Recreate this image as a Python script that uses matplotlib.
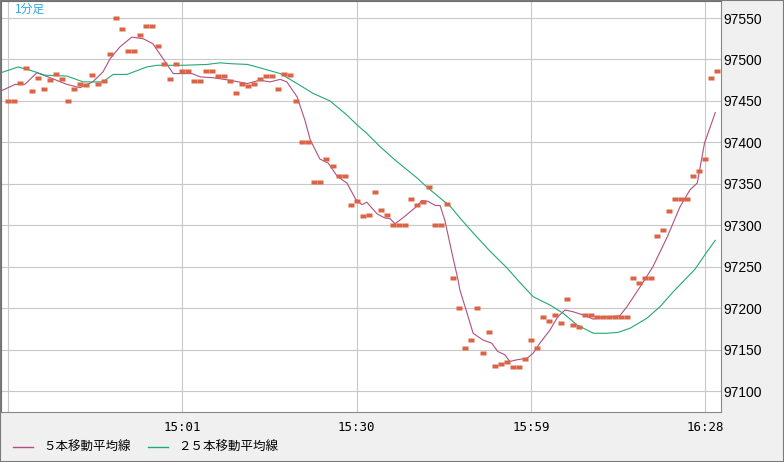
import matplotlib
matplotlib.use("Agg")
import matplotlib.pyplot as plt
from matplotlib.patches import Rectangle

# 1分足 close prices, one per minute starting 14:32
price = [97450, 97450, 97472, 97490, 97462, 97478, 97465, 97475, 97483, 97477,
         97450, 97464, 97470, 97469, 97481, 97470, 97474, 97507, 97550, 97537,
         97510, 97510, 97530, 97540, 97540, 97516, 97495, 97476, 97495, 97486,
         97486, 97474, 97474, 97486, 97486, 97480, 97480, 97474, 97460, 97471,
         97468, 97470, 97476, 97480, 97480, 97465, 97482, 97481, 97450, 97400,
         97400, 97352, 97352, 97380, 97371, 97359, 97359, 97324, 97329, 97311,
         97312, 97340, 97318, 97312, 97300, 97300, 97300, 97332, 97324, 97328,
         97346, 97300, 97300, 97326, 97236, 97200, 97152, 97162, 97200, 97146,
         97171, 97131, 97133, 97135, 97129, 97129, 97139, 97162, 97152, 97189,
         97185, 97192, 97182, 97211, 97180, 97177, 97192, 97192, 97190, 97190,
         97190, 97190, 97190, 97190, 97236, 97230, 97236, 97236, 97287, 97294,
         97317, 97332, 97332, 97332, 97360, 97365, 97380, 97478, 97486]

# moving averages (minute, value)
ma5_t = [-1.2, 1.2, 2.8, 4.8, 7.0, 9.8, 12.0, 14.1, 15.8, 17.0, 18.6, 20.6, 22.5,
         24.1, 25.8, 27.5, 30.6, 32.0, 34.1, 36.9, 39.8, 41.9, 43.6, 45.3, 46.4,
         48.1, 49.4, 50.3, 51.9, 53.3, 54.8, 56.4, 57.9, 58.9, 59.7, 61.4, 62.7,
         63.6, 64.4, 65.7, 67.7, 68.9, 69.9, 71.1, 71.9, 72.7, 73.9, 74.9, 75.2,
         76.4, 77.4, 79.0, 80.5, 81.5, 82.7, 83.5, 84.7, 86.4, 87.4, 88.5, 90.2,
         91.5, 92.7, 94.0, 95.7, 97.4, 98.5, 101.8, 103.0, 105.2, 107.3, 109.7,
         111.8, 113.5, 114.7, 115.9, 117.7]
ma5_v = [97462, 97470, 97470, 97484, 97478, 97470, 97466, 97473, 97485, 97501,
         97515, 97527, 97525, 97519, 97501, 97483, 97483, 97479, 97478, 97475,
         97471, 97475, 97473, 97476, 97473, 97455, 97427, 97403, 97380, 97375,
         97359, 97351, 97331, 97325, 97328, 97314, 97309, 97308, 97302, 97309,
         97321, 97330, 97329, 97324, 97324, 97306, 97266, 97234, 97222, 97194,
         97170, 97162, 97158, 97148, 97144, 97136, 97138, 97140, 97146, 97158,
         97174, 97190, 97198, 97196, 97192, 97187, 97189, 97191, 97202, 97226,
         97250, 97286, 97322, 97343, 97351, 97399, 97436]

ma25_t = [-1.2, 1.7, 3.7, 6.2, 9.8, 12.5, 15.8, 17.5, 19.8, 23.1, 24.8, 29.0,
          33.1, 35.3, 36.9, 39.9, 42.4, 45.3, 48.1, 50.8, 53.6, 56.4, 58.1, 59.7,
          61.9, 64.7, 68.1, 69.9, 71.9, 73.6, 75.2, 77.4, 80.2, 83.0, 85.2, 87.4,
          90.2, 92.4, 94.7, 97.4, 99.7, 101.5, 103.5, 106.3, 108.5, 110.7, 112.3,
          114.3, 116.3, 117.7]
ma25_v = [97484, 97491, 97487, 97481, 97480, 97473, 97473, 97482, 97482, 97491,
          97493, 97493, 97494, 97496, 97495, 97494, 97489, 97483, 97471, 97459,
          97450, 97433, 97421, 97411, 97395, 97377, 97357, 97345, 97333, 97323,
          97309, 97291, 97269, 97249, 97231, 97214, 97204, 97194, 97180, 97170,
          97170, 97171, 97176, 97188, 97202, 97220, 97232, 97247, 97268, 97282]

x_ticks = [0, 29, 58, 87, 116]
x_labels = ["", "15:01", "15:30", "15:59", "16:28"]
y_ticks = [97100, 97150, 97200, 97250, 97300, 97350, 97400, 97450, 97500, 97550]

fig = plt.figure(figsize=(7.84, 4.62), dpi=100, facecolor="#f0f0f0")
ax = fig.add_axes([1 / 784, 49.7 / 462, 720 / 784, 411.8 / 462])
ax.set_facecolor("white")

l5, = ax.plot(ma5_t, ma5_v, color="#b0507e", lw=0.8, label="５本移動平均線")
l25, = ax.plot(ma25_t, ma25_v, color="#22aa70", lw=0.8, label="２５本移動平均線")
# small flat rectangles for the price marks
rect = [(-2, -1.3), (2, -1.3), (2, 1.3), (-2, 1.3), (-2, -1.3)]
ax.plot(range(len(price)), price, ls="none", marker=rect, ms=3.9,
        mfc="#dc6446", mec="none", zorder=3)

ax.set_xlim(-1.165, 118.65)
ax.set_ylim(97074.7, 97571.1)
ax.set_xticks(x_ticks)
ax.set_xticklabels(x_labels)
ax.set_yticks(y_ticks)
ax.yaxis.tick_right()
ax.grid(True, color="#c8c8c8", lw=0.8)
ax.set_axisbelow(True)
ax.tick_params(axis="y", length=0, pad=2, labelsize=10,
               labelfontfamily="Liberation Sans", labelcolor="black")
ax.tick_params(axis="x", length=0, pad=6, labelsize=9,
               labelfontfamily="DejaVu Sans Mono", labelcolor="black")
for side in ["left", "top"]:
    ax.spines[side].set_color("#6e6e6e")
for side in ["right", "bottom"]:
    ax.spines[side].set_color("#888888")
for sp in ax.spines.values():
    sp.set_linewidth(0.8)

fig.text(15 / 784, 1 - 3 / 462, "1分足", color="#2aa8e8", fontsize=8.5,
         family=["Noto Sans CJK JP", "DejaVu Sans"], va="top", ha="left")

leg = fig.legend(handles=[l5, l25], loc="center left",
                 bbox_to_anchor=(13 / 784, 1 - 447.5 / 462), ncol=2, frameon=False,
                 prop={"family": ["Noto Sans CJK JP", "DejaVu Sans"], "size": 9},
                 handlelength=1.6, handletextpad=0.8, columnspacing=1.4,
                 borderpad=0, borderaxespad=0)
for h in leg.legend_handles:
    h.set_linewidth(1.0)

fig.add_artist(Rectangle((0, 0), 1, 1, transform=fig.transFigure, fill=False,
                         edgecolor="#7a7a7a", lw=1.5))

fig.savefig("out.png", dpi=100, facecolor=fig.get_facecolor())
